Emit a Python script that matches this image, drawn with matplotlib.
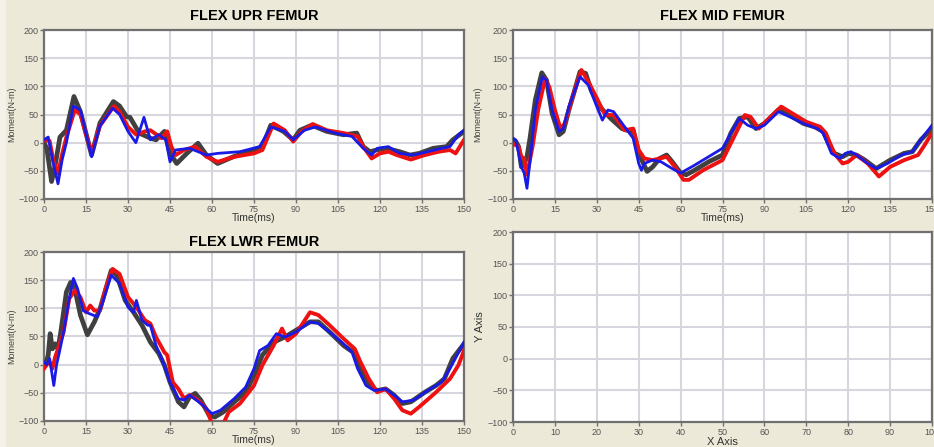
import numpy as np
import matplotlib
matplotlib.use("Agg")
import matplotlib.pyplot as plt
from matplotlib.patches import Rectangle

plt.rcParams['font.family'] = ['Liberation Sans', 'DejaVu Sans']

# ---------------------------------------------------------------- data
# FLEX UPR FEMUR
upr_gray_t = [0, 1, 2.7, 4, 5.7, 8, 10.7, 13, 17, 20, 24.8, 27, 29.5, 30.7, 34, 38, 40, 43, 45, 47.4, 51, 55, 58, 62,
              67.6, 74.8, 78, 81, 85.5, 89, 91.4, 95.6, 101, 107, 111.7, 114, 116.4, 118.8, 122, 127, 130.7, 134, 139,
              143.8, 146, 150]
upr_gray_v = [0, -10, -69, -40, 10, 22, 82, 55, -22, 35, 73, 65, 46, 45, 17, 8, 5, 20, -19, -37, -19, -1, -22, -37,
              -25, -13, -7, 31, 20, 5, 22, 31, 20, 14, 17, -7, -16, -13, -10, -16, -22, -19, -10, -7, 5, 20]
upr_red_t = [0, 2, 3.5, 5, 6.5, 8, 11, 13, 17, 20, 25, 27, 30, 33, 36, 38, 42, 44, 45.5, 47, 50, 54, 58, 62, 68, 75,
             78, 82, 86, 89, 92, 96, 101, 107, 112, 114, 117, 120, 123, 126, 131, 136, 141, 145, 147, 150]
upr_red_v = [5, 3, -35, -55, -20, 10, 58, 50, -19, 30, 65, 55, 28, 14, 20, 22, 8, 20, -7, -22, -13, -7, -25, -34, -25,
             -19, -13, 34, 22, 2, 20, 33, 22, 17, 11, -7, -28, -19, -16, -22, -30, -22, -16, -13, -19, 5]
upr_blue_t = [0, 1.5, 3, 5, 6.5, 8, 10.5, 13, 17, 20, 24.5, 27, 30, 32.8, 35.7, 38, 41, 43.5, 45, 47, 52, 55, 58, 62,
              70, 77, 81, 86, 89, 93, 97, 104, 110, 114, 117, 119, 123, 127, 132, 137, 142, 145, 148, 150]
upr_blue_v = [5, 10, -30, -73, -30, 0, 65, 58, -25, 30, 61, 50, 20, 0, 45, 5, 14, 5, -34, -13, -10, -16, -22, -19,
              -16, -7, 28, 20, 5, 22, 28, 17, 11, -10, -22, -10, -7, -19, -22, -16, -10, -7, 14, 22]

# FLEX MID FEMUR
mid_gray_t = [0, 1, 2, 3, 4, 5, 6, 8, 10.3, 12, 14, 16.5, 18, 20, 24, 26, 28, 31, 35, 39, 42, 43, 45, 48, 50, 52.5,
              55, 57, 60, 62, 65, 70, 75, 78, 81, 84, 87, 90, 95, 99, 104, 108, 111, 113, 115, 118, 120, 123, 126,
              130, 135, 140, 143, 146, 150]
mid_gray_v = [0, 2, -7, -43, -37, -25, 5, 76, 124, 111, 52, 14, 20, 58, 126, 123, 93, 64, 43, 25, 20, 23, -19, -51,
              -43, -28, -22, -34, -54, -57, -49, -34, -22, 17, 43, 46, 25, 34, 58, 49, 34, 28, 20, -1, -19, -25, -19,
              -22, -31, -46, -31, -19, -16, 5, 25]
mid_red_t = [0, 2, 3, 4, 5, 7, 9, 11.5, 13, 15, 17, 18.5, 21, 24.5, 27, 30, 33, 36, 40, 43, 45, 47, 50, 55, 58, 61,
             63, 68, 75, 78, 83, 85, 88, 91, 96, 100, 105, 110, 112, 115, 118, 120, 123, 127, 131, 135, 140, 145,
             147, 150]
mid_red_v = [-2, -7, -25, -28, -57, -7, 58, 114, 99, 58, 25, 34, 76, 129, 108, 79, 49, 49, 22, 25, -13, -28, -31, -25,
             -43, -66, -66, -49, -31, -1, 49, 46, 25, 40, 64, 52, 37, 28, 17, -19, -37, -34, -22, -37, -60, -43,
             -31, -22, -7, 17]
mid_blue_t = [0, 1, 2, 3, 4, 5, 6, 8, 10.5, 12, 14, 16.5, 18, 20, 24, 27, 30, 32, 34, 36, 40, 43, 45, 46, 47, 50, 53,
              57, 60, 65, 70, 75, 78, 81, 84, 87, 90, 95, 99, 104, 109, 111, 114, 117, 119, 121, 123, 127, 130, 134,
              139, 143, 145, 150]
mid_blue_v = [8, 5, -19, -43, -54, -81, -37, 58, 117, 111, 58, 20, 25, 64, 117, 102, 64, 40, 58, 55, 28, 8, -37, -49,
              -37, -31, -34, -46, -54, -40, -25, -10, 17, 43, 31, 25, 31, 55, 46, 34, 25, 17, -19, -28, -19, -16,
              -22, -37, -46, -37, -22, -16, -1, 31]

# FLEX LWR FEMUR
lwr_gray_t = [0, 1, 1.5, 2.2, 3, 4, 5, 6, 8, 9.5, 11, 13, 15.5, 18, 20, 24, 26, 29, 32, 35, 38, 41, 43, 45, 48, 50,
              52, 54, 56, 59, 61, 64, 68, 72, 75, 78, 82, 86, 90, 95, 98, 102, 107, 111, 113, 116, 119, 122, 125,
              128, 131, 136, 140, 143, 146, 150]
lwr_gray_v = [0, 8, 17, 55, 28, 37, 28, 58, 129, 146, 135, 88, 53, 76, 99, 167, 159, 114, 93, 70, 40, 20, -1, -31,
              -66, -75, -57, -51, -63, -90, -93, -84, -66, -49, -19, 17, 40, 49, 61, 76, 76, 58, 34, 20, -7, -37,
              -46, -43, -54, -69, -66, -49, -37, -25, 11, 37]
lwr_red_t = [0, 1, 2, 3, 4, 5, 7, 9, 11, 13, 15, 16.5, 18, 20, 22, 24.5, 27, 30, 33, 36, 38, 40, 43, 44, 46, 48, 50,
             52, 55, 58, 60, 64, 66, 70, 75, 78, 82, 85, 87, 90, 95, 98, 102, 107, 111, 113, 116, 119, 122, 125,
             128, 131, 134, 140, 145, 148, 150]
lwr_red_v = [-7, 0, 5, -7, 14, 28, 58, 117, 132, 120, 93, 105, 96, 96, 135, 170, 161, 120, 102, 79, 73, 49, 22, 17,
             -31, -43, -60, -54, -63, -78, -105, -105, -84, -69, -37, -1, 34, 64, 43, 55, 93, 88, 70, 46, 28, 5,
             -25, -49, -43, -60, -81, -87, -75, -49, -25, -1, 25]
lwr_blue_t = [0, 1, 2, 3.5, 4.5, 5.5, 7, 9, 10.5, 12, 14, 16, 19, 21, 24, 27, 30, 32, 33, 35, 37, 38, 40, 42, 45, 48,
              50, 52, 56, 60, 63, 68, 72, 75, 77, 80, 83, 86, 90, 95, 98, 102, 107, 110, 112, 115, 118, 122, 125,
              128, 132, 137, 142, 145, 150]
lwr_blue_v = [5, 0, 11, -37, 0, 22, 58, 117, 153, 135, 96, 91, 85, 111, 159, 144, 102, 93, 114, 79, 70, 70, 34, 11,
              -31, -60, -63, -54, -69, -87, -81, -60, -40, -7, 25, 34, 55, 49, 58, 76, 73, 58, 37, 22, -7, -37, -46,
              -43, -54, -66, -63, -46, -31, -7, 40]

time_ticks = [0, 15, 30, 45, 60, 75, 90, 105, 120, 135, 150]
empty_ticks = [0, 10, 20, 30, 40, 50, 60, 70, 80, 90, 100]
moment_ticks = [-100, -50, 0, 50, 100, 150, 200]

# ---------------------------------------------------------------- style
bg = '#ECE9D8'
spine_c = '#707070'
grid_c = '#d6d6de'
tick_c = '#555555'

fig = plt.figure(figsize=(9.34, 4.47), dpi=100)
fig.patch.set_facecolor(bg)
fig.patches.append(Rectangle((0, 0), 6 / 934, 1, transform=fig.transFigure,
                             facecolor='#F3F1E8', edgecolor='none', zorder=-1))


def frame(ax, xticks, yticks):
    ax.set_facecolor('white')
    ax.set_xlim(xticks[0], xticks[-1])
    ax.set_ylim(yticks[0], yticks[-1])
    ax.set_xticks(xticks)
    ax.set_yticks(yticks)
    ax.grid(True, color=grid_c, lw=1.5, zorder=0)
    ax.axhline(0, color='#5a5a5a', lw=1.3, zorder=1)
    for s in ax.spines.values():
        s.set_color(spine_c)
        s.set_linewidth(1.6)
    ax.tick_params(axis='both', labelsize=6.5, labelcolor=tick_c, color=spine_c,
                   length=3, width=1, pad=1)


def panel(rect, title, tpad, ylx, series):
    ax = fig.add_axes(rect)
    frame(ax, time_ticks, moment_ticks)
    for t, v, c, lw in series:
        ax.plot(t, v, color=c, lw=lw, zorder=3, solid_joinstyle='round')
    ax.set_title(title, fontsize=10.5, fontweight='bold', pad=tpad)
    ax.set_xlabel('Time(ms)', fontsize=7.5, color='#333333', labelpad=-0.5)
    ax.set_ylabel('Moment(N-m)', fontsize=6.5, color='#444444')
    ax.yaxis.set_label_coords(ylx, 0.5)
    return ax


panel([44 / 934, 1 - 199 / 447, 420 / 934, 169 / 447], 'FLEX UPR FEMUR', 7, -0.067,
      [(upr_gray_t, upr_gray_v, '#404040', 3.4),
       (upr_red_t, upr_red_v, '#ee1111', 2.8),
       (upr_blue_t, upr_blue_v, '#1a1ae6', 2.0)])

panel([513 / 934, 1 - 199 / 447, 419 / 934, 169 / 447], 'FLEX MID FEMUR', 7, -0.074,
      [(mid_gray_t, mid_gray_v, '#404040', 3.4),
       (mid_red_t, mid_red_v, '#ee1111', 2.8),
       (mid_blue_t, mid_blue_v, '#1a1ae6', 2.0)])

panel([44 / 934, 1 - 421 / 447, 420 / 934, 169 / 447], 'FLEX LWR FEMUR', 4, -0.067,
      [(lwr_gray_t, lwr_gray_v, '#404040', 3.4),
       (lwr_red_t, lwr_red_v, '#ee1111', 2.8),
       (lwr_blue_t, lwr_blue_v, '#1a1ae6', 2.0)])

ax4 = fig.add_axes([513 / 934, 1 - 422 / 447, 419 / 934, 190 / 447])
frame(ax4, empty_ticks, moment_ticks)
ax4.set_xlabel('X Axis', fontsize=8, color='#333333', labelpad=0)
ax4.set_ylabel('Y Axis', fontsize=8, color='#333333')
ax4.yaxis.set_label_coords(-0.067, 0.5)

fig.savefig('out.png', dpi=100, facecolor=bg)
